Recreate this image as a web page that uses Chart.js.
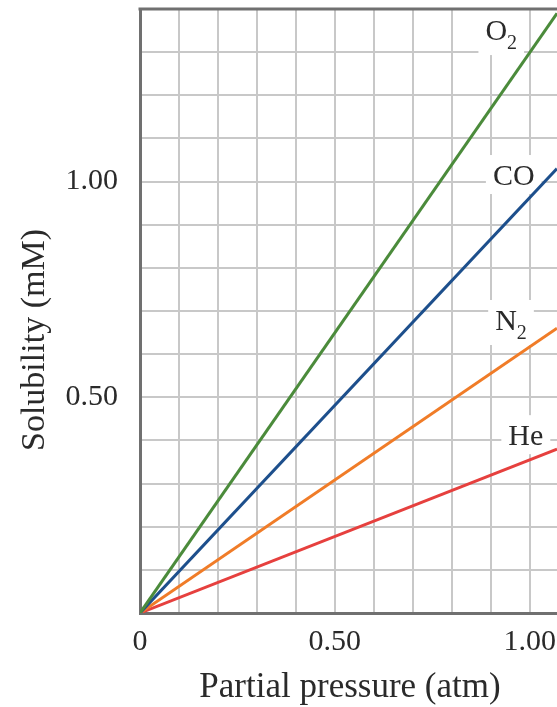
<!DOCTYPE html>
<html>
<head>
<meta charset="utf-8">
<script src="https://cdn.jsdelivr.net/npm/chart.js@4/dist/chart.umd.min.js"></script>
<style>
  html, body { margin: 0; padding: 0; background: #ffffff; }
  #wrap { width: 557px; height: 707px; }
</style>
</head>
<body>
<div id="wrap"><canvas id="chart" width="557" height="707"></canvas></div>
<script>
// Partial pressure (atm) at the two ends of each line
const pressure = [0, 1.07];
// Solubility (mM) at those pressures
const solubilityO2 = [0, 1.39];
const solubilityCO = [0, 1.03];
const solubilityN2 = [0, 0.66];
const solubilityHe = [0, 0.38];
// Gas names split into main text and subscript
const gasMain = ['O', 'CO', 'N', 'He'];
const gasSub = ['2', '', '2', ''];
// Ticks that carry a printed label
const xLabelledTicks = [0, 0.5, 1.0];
const xTickText = ['0', '0.50', '1.00'];
const yLabelledTicks = [0.5, 1.0];
const yTickText = ['0.50', '1.00'];

const SERIF = '"Liberation Serif", "DejaVu Serif", serif';
const TEXT = '#2a2a2a';
const lineColors = ['#4b8b3b', '#1d4f8c', '#f07c28', '#e6403e'];
const seriesValues = [solubilityO2, solubilityCO, solubilityN2, solubilityHe];

function tickText(value, ticks, texts) {
  for (let i = 0; i < ticks.length; i++) {
    if (Math.abs(value - ticks[i]) < 1e-9) return texts[i];
  }
  return '';
}

const datasets = seriesValues.map((vals, i) => ({
  label: gasMain[i] + gasSub[i],
  data: pressure.map((p, j) => ({ x: p, y: vals[j] })),
  borderColor: lineColors[i],
  borderWidth: 3,
  pointRadius: 0,
  tension: 0,
  fill: false
}));

// Gas labels: centre x and baseline y in data units, drawn on a white patch
const gasLabelPlugin = {
  id: 'gasLabels',
  layout(chart) {
    const { x, y } = chart.scales;
    const ctx = chart.ctx;
    const pos = chart.options.plugins.gasLabels.positions;
    return pos.map((p, i) => {
      ctx.font = '30px ' + SERIF;
      const wMain = ctx.measureText(gasMain[i]).width;
      ctx.font = '20px ' + SERIF;
      const wSub = gasSub[i] ? ctx.measureText(gasSub[i]).width : 0;
      const total = wMain + wSub;
      const cx = x.getPixelForValue(p[0]);
      const by = y.getPixelForValue(p[1]);
      return { left: cx - total / 2, base: by, wMain, wSub, total };
    });
  },
  beforeDatasetsDraw(chart) {
    const ctx = chart.ctx;
    ctx.save();
    ctx.fillStyle = '#ffffff';
    this.layout(chart).forEach((l, i) => {
      const bottom = l.base + (gasSub[i] ? 15 : 9);
      ctx.fillRect(l.left - 7, l.base - 30, l.total + 14, bottom - (l.base - 30));
    });
    ctx.restore();
  },
  afterDatasetsDraw(chart) {
    const ctx = chart.ctx;
    const area = chart.chartArea;
    ctx.save();
    // top frame line
    ctx.strokeStyle = '#707070';
    ctx.lineWidth = 3;
    ctx.beginPath();
    ctx.moveTo(area.left - 1.5, area.top);
    ctx.lineTo(area.right, area.top);
    ctx.stroke();

    ctx.fillStyle = TEXT;
    ctx.textBaseline = 'alphabetic';
    ctx.textAlign = 'left';
    this.layout(chart).forEach((l, i) => {
      ctx.font = '30px ' + SERIF;
      ctx.fillText(gasMain[i], l.left, l.base);
      if (gasSub[i]) {
        ctx.font = '20px ' + SERIF;
        ctx.fillText(gasSub[i], l.left + l.wMain, l.base + 9);
      }
    });

    // axis titles
    ctx.font = '35px ' + SERIF;
    ctx.textAlign = 'center';
    ctx.fillText('Partial pressure (atm)', 350, 697);
    ctx.font = '34px ' + SERIF;
    ctx.translate(44, 340);
    ctx.rotate(-Math.PI / 2);
    ctx.fillText('Solubility (mM)', 0, 0);
    ctx.restore();
  }
};

new Chart(document.getElementById('chart'), {
  type: 'line',
  data: { datasets },
  plugins: [gasLabelPlugin],
  options: {
    responsive: false,
    animation: false,
    layout: { padding: { top: 9, left: 0, right: 0, bottom: 0 } },
    plugins: {
      legend: { display: false },
      tooltip: { enabled: false },
      gasLabels: {
        positions: [[0.927, 1.328], [0.959, 0.992], [0.952, 0.656], [0.990, 0.389]]
      }
    },
    scales: {
      x: {
        type: 'linear',
        min: 0,
        max: 1.07,
        ticks: {
          stepSize: 0.1,
          includeBounds: false,
          autoSkip: false,
          maxRotation: 0,
          padding: 11,
          color: TEXT,
          font: { family: SERIF, size: 30 },
          callback: v => tickText(v, xLabelledTicks, xTickText)
        },
        grid: { color: '#c8c8c8', lineWidth: 2, drawTicks: false },
        border: { color: '#707070', width: 3 },
        afterFit(s) { s.height = 94; s.paddingLeft = 0; s.paddingRight = 0; }
      },
      y: {
        type: 'linear',
        min: 0,
        max: 1.4,
        ticks: {
          stepSize: 0.1,
          autoSkip: false,
          padding: 22,
          color: TEXT,
          font: { family: SERIF, size: 30 },
          callback: v => tickText(v, yLabelledTicks, yTickText)
        },
        grid: { color: '#c8c8c8', lineWidth: 2, drawTicks: false },
        border: { color: '#707070', width: 3 },
        afterFit(s) { s.width = 140; s.paddingTop = 0; s.paddingBottom = 0; }
      }
    }
  }
});
</script>
</body>
</html>
